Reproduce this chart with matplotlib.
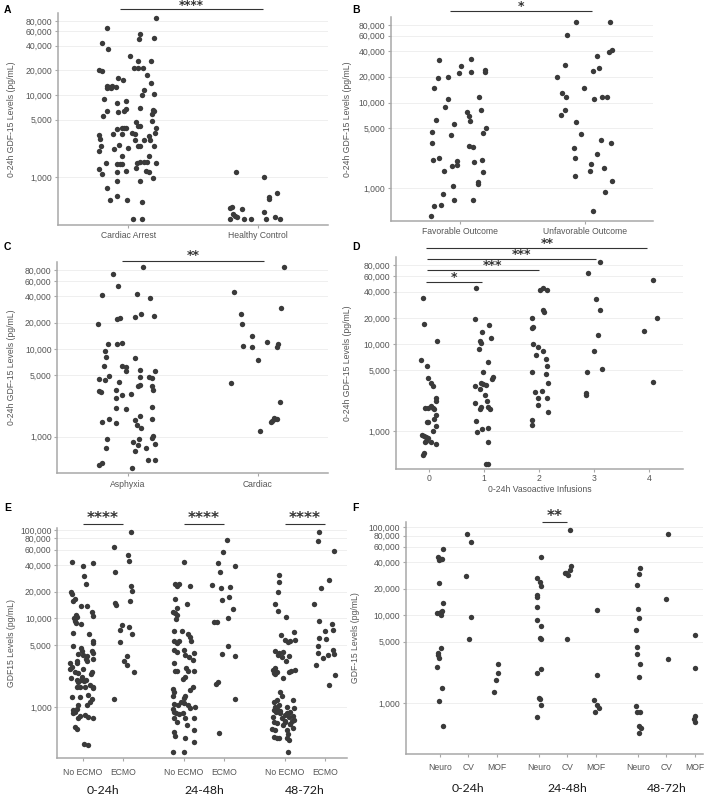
import matplotlib
matplotlib.use('Agg')
import matplotlib.pyplot as plt
from matplotlib import transforms
from matplotlib.ticker import FixedLocator, NullLocator, FuncFormatter

plt.rcParams['font.family'] = ['Liberation Sans', 'DejaVu Sans']

W, H = 709, 796
DOT = '#3a3a3a'
GRID = '#ececec'
AXC = '#a8a8a8'
TXT = '#555555'

# ---------------- data (values in pg/mL, jitter in category units) ----------------
# A: cardiac arrest vs healthy control
a_ca_val = [87700, 64900, 55800, 48900, 48000, 42900, 36900, 30000, 25800, 26300,
            20000, 19700, 21400, 21600, 21200, 16000, 15400, 17400, 12900, 12600,
            12300, 12900, 12600, 12200, 13900, 11500, 9020, 10300, 9910, 8060,
            8450, 6430, 6190, 6430, 6670, 6930, 6550, 6310, 5530, 4710,
            4800, 5800, 3870, 3950, 3950, 3980, 3330, 3330, 3460, 3390,
            4170, 4170, 3980, 3460, 3300, 2950, 2870, 3150, 2870, 2810,
            2440, 2420, 2420, 2420, 2370, 2200, 2240, 2100, 1820, 1820,
            1480, 1440, 1440, 1430, 1480, 1510, 1510, 1540, 1480, 1300,
            1250, 1100, 1170, 1180, 1180, 1170, 980, 885, 900, 727,
            597, 523, 523, 504, 306, 306]
a_ca_jit = [0.214, -0.166, 0.094, 0.202, 0.082, -0.199, -0.156, 0.018, 0.074, 0.176,
            -0.224, -0.199, 0.043, 0.077, 0.115, -0.079, -0.038, 0.145, -0.166, -0.148,
            -0.135, -0.122, -0.097, -0.161, 0.176, 0.120, -0.186, 0.202, 0.107, -0.084,
            -0.013, -0.166, -0.079, -0.033, -0.013, 0.089, 0.191, 0.202, -0.191, 0.061,
            0.184, 0.184, -0.084, -0.046, -0.028, -0.013, -0.115, -0.046, 0.031, 0.056,
            0.074, 0.094, 0.217, 0.209, -0.224, -0.217, 0.056, 0.158, 0.171, 0.120,
            -0.071, 0.074, 0.089, 0.196, -0.212, -0.110, 0.000, -0.224, -0.046, 0.158,
            -0.173, -0.084, -0.064, -0.046, 0.069, 0.094, 0.120, 0.145, 0.214, 0.061,
            -0.222, -0.204, -0.089, -0.020, 0.140, 0.158, 0.191, -0.084, 0.094, -0.166,
            -0.089, -0.140, -0.008, 0.107, 0.036, 0.107]
a_hc_val = [1140, 1000, 649, 580, 543, 437, 417, 406, 380, 356, 336, 324, 306, 306, 306, 306, 330, 306]
a_hc_jit = [-0.166, 0.046, 0.148, 0.084, 0.084, -0.199, -0.212, -0.120, 0.046, -0.191,
            -0.179, -0.161, -0.217, -0.107, -0.051, 0.064, 0.128, 0.171]
a_labels = ['Cardiac Arrest', 'Healthy Control']

# B: favorable vs unfavorable outcome
b_fav_val = [31600, 32200, 26900, 21900, 22900, 23900, 22700, 19500, 20100, 14700,
             11700, 10900, 8910, 8290, 7720, 6930, 6070, 6350, 5700, 5120,
             4520, 4210, 4440, 3370, 3110, 3050, 2170, 2270, 2170, 2080,
             1880, 1830, 2010, 1590, 1550, 1200, 1140, 1070, 859, 629,
             634, 732, 725, 477]
b_fav_jit = [-0.167, 0.093, 0.013, -0.003, 0.093, 0.199, 0.199, -0.172, -0.093, -0.204,
             0.151, -0.090, -0.119, 0.167, 0.058, 0.072, 0.080, -0.186, -0.048, 0.207,
             -0.220, -0.066, 0.186, -0.223, 0.072, 0.103, -0.212, -0.167, 0.178, -0.019,
             -0.019, -0.061, 0.114, -0.125, 0.183, 0.143, 0.146, -0.056, -0.135, -0.202,
             -0.146, -0.042, 0.103, -0.225]
b_unf_val = [86700, 86700, 61800, 27700, 34600, 39200, 40600, 19700, 23300, 25100,
             14900, 12900, 11600, 11000, 11500, 11600, 8290, 7250, 5960, 4280,
             3680, 3400, 2970, 2510, 2250, 1920, 1750, 1600, 1400, 1230,
             906, 541]
b_unf_jit = [-0.077, 0.199, -0.143, -0.162, 0.095, 0.186, 0.212, -0.225, 0.064, 0.111,
             -0.013, -0.186, -0.154, 0.072, 0.130, 0.175, -0.164, -0.196, -0.074, -0.037,
             0.125, 0.204, -0.088, 0.095, -0.082, 0.048, 0.149, 0.034, -0.085, 0.215,
             0.159, 0.058]
b_labels = ['Favorable Outcome', 'Unfavorable Outcome']

# C: asphyxia vs cardiac
c_asp_val = [86100, 72200, 52700, 41900, 42300, 38000, 19500, 22100, 22600, 23100,
             25200, 24100, 11500, 11300, 11700, 9400, 8170, 6340, 6450, 6280,
             5600, 7820, 4910, 4500, 4420, 5800, 4190, 4740, 4740, 4700,
             5650, 3770, 3900, 3770, 3390, 3360, 3220, 3450, 2750, 3000,
             3050, 2110, 2070, 2150, 1720, 1550, 1590, 1460, 1420, 1570,
             1360, 1250, 948, 1020, 975, 877, 932, 803, 832, 748,
             691, 735, 536, 536, 470, 499, 434]
c_asp_jit = [0.120, -0.110, -0.074, -0.199, 0.074, 0.173, -0.224, -0.084, -0.059, 0.056,
             0.107, 0.202, -0.153, -0.079, -0.041, -0.171, -0.166, -0.184, -0.041, -0.015,
             -0.013, 0.059, -0.143, -0.217, -0.171, 0.094, -0.066, 0.094, 0.166, 0.186,
             0.214, 0.077, 0.094, 0.186, 0.199, -0.222, -0.204, -0.092, -0.092, -0.041,
             0.023, -0.089, -0.013, 0.184, 0.094, 0.056, -0.140, -0.196, -0.089, 0.184,
             0.069, 0.105, -0.161, 0.196, 0.189, 0.043, 0.089, 0.082, 0.214, -0.166,
             0.056, 0.145, 0.158, 0.214, -0.222, -0.199, 0.033]
c_car_val = [86100, 44500, 29700, 24900, 19300, 14300, 11000, 10500, 12100, 11400,
             10700, 7550, 4150, 2470, 1650, 1590, 1520, 1570, 1450, 1160]
c_car_jit = [0.196, -0.186, 0.179, -0.128, -0.120, -0.043, -0.115, -0.048, 0.071, 0.153,
             0.143, 0.003, -0.207, 0.166, 0.120, 0.130, 0.110, 0.148, 0.102, 0.018]
c_labels = ['Asphyxia', 'Cardiac']

# D: number of vasoactive infusions 0-24h
d_v0_val = [33600, 17100, 10700, 6620, 5650, 4050, 3580, 3300, 2430, 2240,
            1820, 1820, 1950, 1850, 1790, 1550, 1360, 1150, 1280, 1260,
            1010, 900, 877, 861, 839, 768, 742, 742, 716, 555, 531]
d_v0_jit = [-0.115, -0.091, 0.145, -0.145, -0.042, -0.012, 0.036, 0.067, 0.127, 0.133,
            -0.073, -0.024, 0.036, 0.073, 0.097, 0.121, 0.091, 0.127, -0.042, -0.024,
            0.067, -0.133, -0.085, -0.055, -0.024, -0.061, -0.073, 0.036, 0.133, -0.085, -0.115]
d_v1_val = [43800, 19500, 13700, 16400, 10800, 10400, 11700, 8840, 6280, 4740,
            3280, 3610, 3510, 3420, 3030, 2630, 4010, 4230, 2130, 2210,
            1900, 1790, 1880, 1790, 1300, 1070, 966, 1080, 748, 419, 419]
d_v1_jit = [-0.145, -0.164, -0.030, 0.091, -0.067, -0.055, 0.127, -0.091, 0.079, -0.018,
            -0.164, -0.055, -0.012, 0.030, -0.073, 0.018, 0.139, 0.158, -0.164, 0.048,
            -0.055, -0.073, 0.079, 0.109, -0.152, -0.042, -0.121, 0.079, 0.079, 0.036, 0.079]
d_v2_val = [41900, 44200, 41500, 24900, 23200, 19900, 15500, 15200, 10100, 9240,
            8240, 7420, 6790, 5600, 4780, 4530, 3550, 2820, 2920, 2430,
            2410, 2020, 1650, 1350, 1170]
d_v2_jit = [0.018, 0.067, 0.152, 0.067, 0.097, -0.133, -0.103, -0.133, -0.115, -0.024,
            0.067, -0.061, 0.121, 0.139, -0.121, 0.127, 0.158, -0.073, 0.048, -0.012,
            0.152, -0.012, 0.158, -0.133, -0.121]
d_v3_val = [86900, 65600, 32500, 24900, 12800, 8320, 5220, 4820, 2720, 2630]
d_v3_jit = [0.115, -0.115, 0.042, 0.115, 0.067, -0.006, 0.152, -0.133, -0.152, -0.152]
d_v4_val = [54500, 19700, 14200, 3640]
d_v4_jit = [0.079, 0.145, -0.091, 0.067]
d_labels = ['0', '1', '2', '3', '4']

# E: ECMO vs no ECMO over three time windows
e_no1_val = [43100, 39500, 41900, 29900, 24300, 19700, 19000, 15800, 16500, 13900,
             13800, 11800, 10700, 11000, 10400, 10100, 9250, 8780, 8630, 6830,
             6650, 5590, 5260, 4940, 4610, 4300, 3950, 3880, 3720, 4230,
             4050, 3490, 3490, 3260, 3120, 2860, 3120, 3260, 2690, 2510,
             2690, 2340, 2410, 2200, 2510, 2150, 1990, 1900, 2020, 1940,
             2020, 1770, 1630, 1700, 1670, 1700, 1670, 1310, 1310, 1370,
             1230, 1050, 1050, 1130, 925, 885, 949, 848, 798, 812,
             777, 757, 757, 599, 564, 385, 371]
e_no1_jit = [-0.273, 0.017, 0.264, 0.041, 0.083, -0.298, -0.264, -0.231, -0.190, -0.050,
             0.099, 0.240, 0.264, -0.174, -0.149, -0.215, -0.190, -0.165, -0.050, -0.248,
             0.149, 0.248, 0.264, -0.231, -0.050, -0.025, -0.107, 0.017, 0.099, 0.223,
             0.264, 0.083, 0.264, 0.099, -0.314, -0.273, -0.149, -0.132, 0.017, 0.223,
             -0.314, 0.198, -0.107, -0.025, -0.190, -0.298, -0.149, -0.107, -0.050, 0.033,
             0.083, 0.182, 0.248, 0.264, -0.149, -0.066, 0.058, -0.273, -0.066, 0.140,
             0.223, -0.107, 0.116, 0.182, -0.248, -0.190, -0.149, -0.231, -0.066, 0.058,
             0.140, 0.248, -0.107, -0.190, -0.132, 0.033, 0.140]
e_ec1_val = [94900, 63600, 52600, 45000, 33200, 23200, 20200, 15600, 15000, 14000,
             8330, 7440, 7980, 6650, 5350, 3720, 3260, 2940, 2470, 1220]
e_ec1_jit = [0.198, -0.215, 0.124, 0.140, -0.190, 0.182, 0.223, 0.165, -0.198, -0.182,
             -0.025, -0.083, 0.140, 0.207, -0.066, 0.099, 0.017, 0.099, 0.264, -0.231]
e_no2_val = [43100, 24500, 23400, 24500, 23400, 16400, 14500, 13100, 11800, 11500,
             11000, 9910, 7250, 7250, 6650, 6090, 5590, 5590, 5300, 5490,
             4380, 4160, 4380, 3880, 3680, 4050, 3400, 3120, 2740, 2560,
             2560, 2560, 2560, 2200, 2070, 1670, 1560, 1600, 1490, 1340,
             1340, 1250, 1070, 1050, 1150, 1100, 1050, 991, 966, 949,
             885, 848, 826, 848, 744, 682, 744, 625, 744, 517,
             474, 442, 549, 405, 307, 307]
e_no2_jit = [0.017, -0.215, -0.165, -0.107, 0.165, -0.215, 0.083, -0.165, -0.273, -0.215,
             -0.165, -0.182, -0.248, -0.050, 0.116, 0.165, 0.182, -0.248, -0.165, -0.107,
             -0.248, -0.165, 0.017, 0.033, 0.140, 0.264, 0.223, -0.231, 0.058, 0.264,
             -0.215, -0.165, 0.099, 0.033, -0.025, 0.223, 0.165, -0.273, -0.248, -0.273,
             0.033, 0.017, -0.231, -0.149, -0.066, 0.017, 0.116, 0.281, 0.165, -0.273,
             -0.231, -0.190, -0.107, -0.025, -0.231, -0.165, 0.033, 0.083, 0.248, -0.248,
             -0.215, 0.033, 0.248, 0.248, -0.273, 0.017]
e_ec2_val = [76400, 56400, 42300, 38800, 33200, 24000, 22000, 22600, 16300, 17300,
             12800, 9010, 9010, 10100, 4940, 3950, 3720, 1820, 1900, 1220, 512]
e_ec2_jit = [0.058, -0.041, -0.165, 0.264, -0.099, -0.289, -0.083, 0.140, -0.066, 0.124,
             0.207, -0.248, -0.182, 0.083, 0.083, -0.066, 0.264, -0.207, -0.165, 0.264, -0.140]
e_no3_val = [31200, 25600, 19700, 14700, 12000, 10400, 6530, 7000, 5730, 5400,
             5730, 5590, 4300, 4050, 4160, 3780, 3320, 2740, 2410, 2510,
             2340, 2510, 2560, 2110, 1490, 1340, 1150, 1200, 1050, 1200,
             983, 925, 885, 848, 812, 777, 848, 744, 682, 653,
             682, 636, 573, 564, 549, 549, 491, 461, 450, 442,
             442, 423, 312, 1000, 960, 900, 880, 800, 720, 760,
             700, 700, 620, 640, 3900, 3700, 2600, 2600, 1000]
e_no3_jit = [-0.149, -0.149, -0.165, -0.231, -0.165, 0.033, -0.091, 0.223, 0.017, 0.083,
             0.248, 0.140, -0.248, -0.132, -0.050, 0.116, 0.033, -0.248, -0.273, -0.190,
             -0.231, 0.099, 0.165, -0.050, -0.107, -0.066, -0.273, -0.190, -0.149, 0.198,
             0.223, -0.273, -0.215, -0.107, 0.017, 0.099, 0.058, -0.066, -0.273, -0.190,
             0.017, 0.140, 0.198, -0.314, -0.231, 0.058, 0.083, -0.273, -0.190, -0.149,
             0.058, 0.099, 0.083, -0.250, -0.200, -0.120, 0.120, 0.200, 0.230, -0.280,
             0.000, 0.170, -0.050, 0.120, -0.170, -0.080, 0.250, -0.300, 0.050]
e_ec3_val = [94100, 75700, 58300, 27400, 22000, 14700, 9250, 8700, 7440, 7130,
             5990, 5830, 4940, 4420, 4050, 3560, 3880, 3950, 2990, 2300, 1770]
e_ec3_jit = [-0.165, -0.182, 0.223, 0.099, -0.107, -0.289, -0.149, 0.165, 0.198, 0.000,
             -0.165, 0.017, -0.190, 0.182, -0.190, -0.050, 0.058, 0.223, -0.231, 0.240, 0.083]
e_labels = ['No ECMO', 'ECMO'] * 3
e_windows = ['0-24h', '24-48h', '48-72h']

# F: neuro / CV / MOF over three time windows
f_ne1_val = [56300, 46200, 43400, 42300, 43400, 23200, 13800, 10600, 10500, 10800,
             11000, 9910, 4230, 3750, 3490, 3260, 2580, 1490, 1050, 554]
f_ne1_jit = [0.094, -0.082, 0.035, -0.035, 0.082, -0.024, 0.094, -0.118, -0.035, 0.035,
             0.082, 0.035, 0.035, -0.082, -0.059, -0.035, -0.106, 0.082, -0.024, 0.094]
f_cv1_val = [83300, 68200, 27900, 9490, 5300]
f_cv1_jit = [-0.059, 0.082, -0.071, 0.082, 0.012]
f_mo1_val = [2760, 2220, 1820, 1340]
f_mo1_jit = [0.035, 0.035, -0.035, -0.082]
f_ne2_val = [46200, 26200, 24000, 21300, 17000, 16100, 12400, 8780, 7440, 5540,
             5400, 2220, 2470, 1150, 1110, 966, 694]
f_ne2_jit = [0.082, -0.059, 0.024, 0.059, -0.059, -0.071, -0.082, -0.082, 0.082, 0.035,
             0.082, -0.082, 0.082, -0.012, 0.035, 0.082, -0.071]
f_cv2_val = [92500, 35900, 32900, 30200, 28900, 29900, 5300]
f_cv2_jit = [0.106, 0.129, 0.082, -0.047, 0.024, -0.071, -0.012]
f_mo2_val = [11300, 2110, 1080, 966, 885, 798]
f_mo2_jit = [0.035, 0.059, -0.059, 0.047, 0.106, -0.024]
f_ne3_val = [34000, 29100, 22000, 11600, 9330, 6700, 4340, 3620, 2810, 1970,
             941, 791, 791, 549, 526, 461]
f_ne3_jit = [0.071, 0.035, -0.024, 0.000, 0.047, -0.059, -0.024, -0.024, 0.082, 0.035,
             -0.082, -0.024, 0.082, 0.012, 0.094, 0.035]
f_cv3_val = [84100, 15300, 3200]
f_cv3_jit = [0.059, 0.000, 0.059]
f_mo3_val = [5890, 2510, 719, 670, 615]
f_mo3_jit = [0.000, 0.000, 0.024, -0.024, 0.000]
f_labels = ['Neuro', 'CV', 'MOF'] * 3

ticks_a = [1000, 5000, 10000, 20000, 40000, 60000, 80000]
ticks_e = ticks_a + [100000]

# ---------------- figure ----------------
fig = plt.figure(figsize=(W / 100, H / 100), dpi=100)


def panel(left, top, right, bottom):
    return fig.add_axes([left / W, 1 - bottom / H, (right - left) / W, (bottom - top) / H])


def style(ax, ylim, yticks, xlim, xpos, xlabels, xpad=2.5):
    ax.set_yscale('log')
    ax.set_ylim(*ylim)
    ax.yaxis.set_major_locator(FixedLocator(yticks))
    ax.yaxis.set_minor_locator(NullLocator())
    ax.yaxis.set_major_formatter(FuncFormatter(lambda v, p: f'{v:,.0f}'))
    ax.set_xlim(*xlim)
    ax.set_xticks(xpos)
    ax.set_xticklabels(xlabels)
    ax.grid(axis='y', color=GRID, lw=0.6)
    ax.set_axisbelow(True)
    for s in ['top', 'right']:
        ax.spines[s].set_visible(False)
    for s in ['left', 'bottom']:
        ax.spines[s].set_color(AXC)
        ax.spines[s].set_linewidth(1.1)
    ax.tick_params(axis='both', colors=AXC, labelcolor=TXT, labelsize=6.2,
                   length=2, width=0.8)
    ax.tick_params(axis='y', pad=2)
    ax.tick_params(axis='x', pad=xpad)


def dots(ax, pos, jit, vals):
    ax.scatter([pos + j for j in jit], vals, s=15, color=DOT, linewidths=0, zorder=3)


def sig(ax, x0, x1, ypx, label, size=9, dx=0.0, lift=1.2):
    bt = transforms.blended_transform_factory(ax.transData, fig.transFigure)
    ax.plot([x0, x1], [1 - ypx / H] * 2, transform=bt, color='#333333', lw=0.8,
            clip_on=False, solid_capstyle='butt')
    ax.text((x0 + x1) / 2 + dx, 1 - (ypx - lift) / H, label, transform=bt,
            ha='center', va='baseline', fontsize=size, color='#333333',
            family='DejaVu Sans', fontweight='bold')


def ylab(x, ax, text):
    pos = ax.get_position()
    fig.text(x / W, pos.y0 + pos.height / 2, text, rotation=90, ha='center',
             va='center', fontsize=6.2, color=TXT)


def letter(x, y, s):
    fig.text(x / W, 1 - y / H, s, ha='left', va='center', fontsize=7.5,
             fontweight='bold', color='black')


# A
axA = panel(58, 13, 328, 225)
style(axA, (261, 100000), ticks_a, (-0.54, 1.54), [0, 1], a_labels)
dots(axA, 0, a_ca_jit, a_ca_val)
dots(axA, 1, a_hc_jit, a_hc_val)
sig(axA, -0.06, 1.04, 9, '****', size=8.5, lift=-0.3)
ylab(12, axA, '0-24h GDF-15 Levels (pg/mL)')
letter(4, 10, 'A')

# B
axB = panel(391, 16.7, 653, 220.7)
style(axB, (421, 100000), ticks_a, (-0.546, 1.538), [0, 1], b_labels)
dots(axB, 0, b_fav_jit, b_fav_val)
dots(axB, 1, b_unf_jit, b_unf_val)
sig(axB, -0.074, 1.053, 11, '*')
ylab(347, axB, '0-24h GDF-15 Levels (pg/mL)')
letter(352, 10, 'B')

# C
axC = panel(57.3, 261.7, 328, 473.3)
style(axC, (380, 100000), ticks_a, (-0.538, 1.536), [0, 1], c_labels)
dots(axC, 0, c_asp_jit, c_asp_val)
dots(axC, 1, c_car_jit, c_car_val)
sig(axC, -0.04, 1.045, 260.7, '**')
ylab(12, axC, '0-24h GDF-15 Levels (pg/mL)')
letter(4, 247, 'C')

# D
axD = panel(395.7, 257, 683.3, 469.3)
style(axD, (364, 100000), ticks_a, (-0.606, 4.624), [0, 1, 2, 3, 4], d_labels, xpad=1.5)
for i, (jit, vals) in enumerate([(d_v0_jit, d_v0_val), (d_v1_jit, d_v1_val),
                                 (d_v2_jit, d_v2_val), (d_v3_jit, d_v3_val),
                                 (d_v4_jit, d_v4_val)]):
    dots(axD, i, jit, vals)
sig(axD, -0.055, 3.96, 248.3, '**', dx=0.2)
sig(axD, -0.04, 3.03, 259, '***', dx=0.18)
sig(axD, -0.04, 2.0, 270, '***', dx=0.18)
sig(axD, -0.06, 0.97, 281.7, '*')
axD.set_xlabel('0-24h Vasoactive Infusions', fontsize=6.2, color=TXT, labelpad=1)
ylab(347, axD, '0-24h GDF-15 Levels (pg/mL)')
letter(352, 247, 'D')

# E
e_pos = [0, 1, 2.5, 3.5, 5, 6]
axE = panel(57.3, 528, 347, 757.7)
style(axE, (267, 105000), ticks_e, (-0.63, 6.54), e_pos, e_labels, xpad=5.5)
e_groups = [(e_no1_jit, e_no1_val), (e_ec1_jit, e_ec1_val), (e_no2_jit, e_no2_val),
            (e_ec2_jit, e_ec2_val), (e_no3_jit, e_no3_val), (e_ec3_jit, e_ec3_val)]
for p, (jit, vals) in zip(e_pos, e_groups):
    dots(axE, p, jit, vals)
for k in range(3):
    sig(axE, e_pos[2 * k], e_pos[2 * k + 1], 524.3, '****', size=11)
    bt = transforms.blended_transform_factory(axE.transData, fig.transFigure)
    axE.text((e_pos[2 * k] + e_pos[2 * k + 1]) / 2, 1 - 791 / H, e_windows[k],
             transform=bt, ha='center', va='center', fontsize=8.8, color='#1a1a1a',
             family='Lato')
ylab(12, axE, 'GDF15 Levels (pg/mL)')
letter(4, 508, 'E')

# F
f_pos = [0, 1, 2, 3.5, 4.5, 5.5, 7, 8, 9]
axF = panel(405.7, 521.7, 703, 753.7)
style(axF, (267, 115000), ticks_e, (-1.21, 9.29), f_pos, f_labels, xpad=4.5)
f_groups = [(f_ne1_jit, f_ne1_val), (f_cv1_jit, f_cv1_val), (f_mo1_jit, f_mo1_val),
            (f_ne2_jit, f_ne2_val), (f_cv2_jit, f_cv2_val), (f_mo2_jit, f_mo2_val),
            (f_ne3_jit, f_ne3_val), (f_cv3_jit, f_cv3_val), (f_mo3_jit, f_mo3_val)]
for p, (jit, vals) in zip(f_pos, f_groups):
    dots(axF, p, jit, vals)
sig(axF, 3.59, 4.48, 522.3, '**', size=11)
bt = transforms.blended_transform_factory(axF.transData, fig.transFigure)
for k in range(3):
    axF.text(f_pos[3 * k + 1], 1 - 788.3 / H, e_windows[k], transform=bt,
             ha='center', va='center', fontsize=8.8, color='#1a1a1a', family='Lato')
ylab(355, axF, 'GDF-15 Levels (pg/mL)')
letter(352, 508, 'F')

fig.savefig('out.png', dpi=100)
